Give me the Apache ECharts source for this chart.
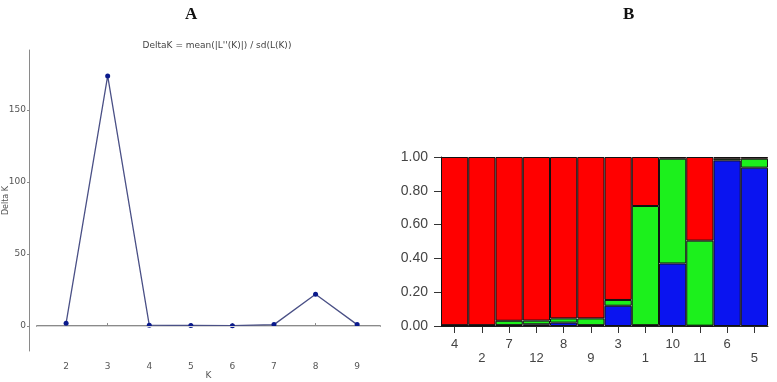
<!DOCTYPE html>
<html>
<head>
<meta charset="utf-8">
<script src="https://cdn.jsdelivr.net/npm/echarts@6/dist/echarts.min.js"></script>
<style>
  html, body { margin: 0; padding: 0; background: #fff; }
  #chart { width: 777px; height: 382px; }
</style>
</head>
<body>
<div id="chart"></div>
<script>
// panel A: Evanno delta K
const kValues = [2, 3, 4, 5, 6, 7, 8, 9]
const deltaK = [2, 173.5, 0.6, 0.4, 0.3, 1, 22, 1]
const deltaKTicks = [0, 50, 100, 150]

// panel B: membership per population (cluster proportions)
const pops = ['4', '2', '7', '12', '8', '9', '3', '1', '10', '11', '6', '5']
const blueShare = [0.002, 0.002, 0.005, 0.01, 0.02, 0.005, 0.12, 0.005, 0.37, 0.002, 0.98, 0.937]
const greenShare = [0.003, 0.003, 0.026, 0.022, 0.025, 0.04, 0.034, 0.705, 0.62, 0.503, 0.01, 0.053]
const redShare = [0.995, 0.995, 0.969, 0.968, 0.955, 0.955, 0.846, 0.29, 0.01, 0.495, 0.01, 0.01]

const chart = echarts.init(document.getElementById('chart'))

const grayAxis = { lineStyle: { color: '#8a8a8a', width: 1 } }
const blackAxis = { lineStyle: { color: '#222', width: 1 } }

const barSeries = (name, data, color) => ({
  name,
  type: 'bar',
  stack: 'q',
  xAxisIndex: 1,
  yAxisIndex: 1,
  data,
  barCategoryGap: 0,
  itemStyle: { color, borderColor: '#111', borderWidth: 1 },
  emphasis: { disabled: true }
})

chart.setOption({
  animation: false,
  title: [
    {
      text: 'A', left: 180, top: 1,
      textStyle: { fontFamily: 'Liberation Serif', fontWeight: 'bold', fontSize: 17, color: '#111' }
    },
    {
      text: 'B', left: 618, top: 1,
      textStyle: { fontFamily: 'Liberation Serif', fontWeight: 'bold', fontSize: 17, color: '#111' }
    },
    {
      text: "DeltaK = mean(|L''(K)|) / sd(L(K))", left: 212, top: 36, textAlign: 'center',
      textStyle: { fontFamily: 'DejaVu Sans', fontWeight: 'normal', fontSize: 9, color: '#444' }
    }
  ],
  grid: [
    { left: 37, right: 397, top: 50, bottom: 31, outerBoundsMode: 'none' },
    { left: 441, right: 9, top: 157, bottom: 56, outerBoundsMode: 'none' }
  ],
  xAxis: [
    {
      gridIndex: 0,
      type: 'value',
      min: 1.3,
      max: 9.55,
      offset: 8,
      name: 'K',
      nameLocation: 'middle',
      nameGap: 12,
      nameMoveOverlap: false,
      nameTextStyle: { fontFamily: 'DejaVu Sans', fontSize: 9, color: '#555' },
      axisLine: { show: true, lineStyle: { color: '#8a8a8a', width: 2 } },
      axisTick: { show: true, customValues: kValues, length: 3, inside: true, lineStyle: { color: '#8a8a8a' } },
      axisLabel: { customValues: kValues, fontFamily: 'DejaVu Sans', fontSize: 9, color: '#555', margin: 3 },
      splitLine: { show: false }
    },
    {
      gridIndex: 1,
      type: 'category',
      data: pops,
      axisLine: blackAxis,
      axisTick: { show: true, alignWithLabel: true, length: 7, lineStyle: { color: '#333' } },
      axisLabel: {
        interval: 0,
        fontFamily: 'Liberation Sans',
        fontSize: 13,
        color: '#444',
        margin: 11,
        lineHeight: 14,
        formatter: (v, i) => (i % 2 ? '\n' + v : v)
      }
    }
  ],
  yAxis: [
    {
      gridIndex: 0,
      type: 'value',
      min: -17.3,
      max: 191.5,
      offset: 8,
      name: 'Delta K',
      nameLocation: 'middle',
      nameRotate: 90,
      nameGap: 19,
      nameMoveOverlap: false,
      nameTextStyle: { fontFamily: 'DejaVu Sans', fontSize: 8, color: '#555' },
      axisLine: { show: true, ...grayAxis },
      axisTick: { show: true, customValues: deltaKTicks, length: 2, lineStyle: { color: '#8a8a8a' } },
      axisLabel: { customValues: deltaKTicks, fontFamily: 'DejaVu Sans', fontSize: 9, color: '#555', margin: 3 },
      splitLine: { show: false }
    },
    {
      gridIndex: 1,
      type: 'value',
      min: 0,
      max: 1,
      interval: 0.2,
      axisLine: { show: true, ...blackAxis },
      axisTick: { show: true, length: 7, lineStyle: { color: '#333' } },
      axisLabel: {
        fontFamily: 'Liberation Sans',
        fontSize: 14,
        color: '#444',
        margin: 13,
        formatter: v => v.toFixed(2)
      },
      splitLine: { show: false }
    }
  ],
  series: [
    {
      type: 'line',
      xAxisIndex: 0,
      yAxisIndex: 0,
      data: kValues.map((k, i) => [k, deltaK[i]]),
      symbol: 'circle',
      symbolSize: 5,
      lineStyle: { color: '#4a5086', width: 1.3 },
      itemStyle: { color: '#0a1a8c' },
      markLine: {
        silent: true,
        symbol: 'none',
        label: { show: false },
        lineStyle: { color: '#d6d6d6', type: 'solid', width: 1 },
        data: [{ yAxis: 0 }]
      },
      z: 3
    },
    barSeries('cluster 1', blueShare, '#0a14f0'),
    barSeries('cluster 2', greenShare, '#1cf01c'),
    barSeries('cluster 3', redShare, '#ff0000')
  ]
})
</script>
</body>
</html>
